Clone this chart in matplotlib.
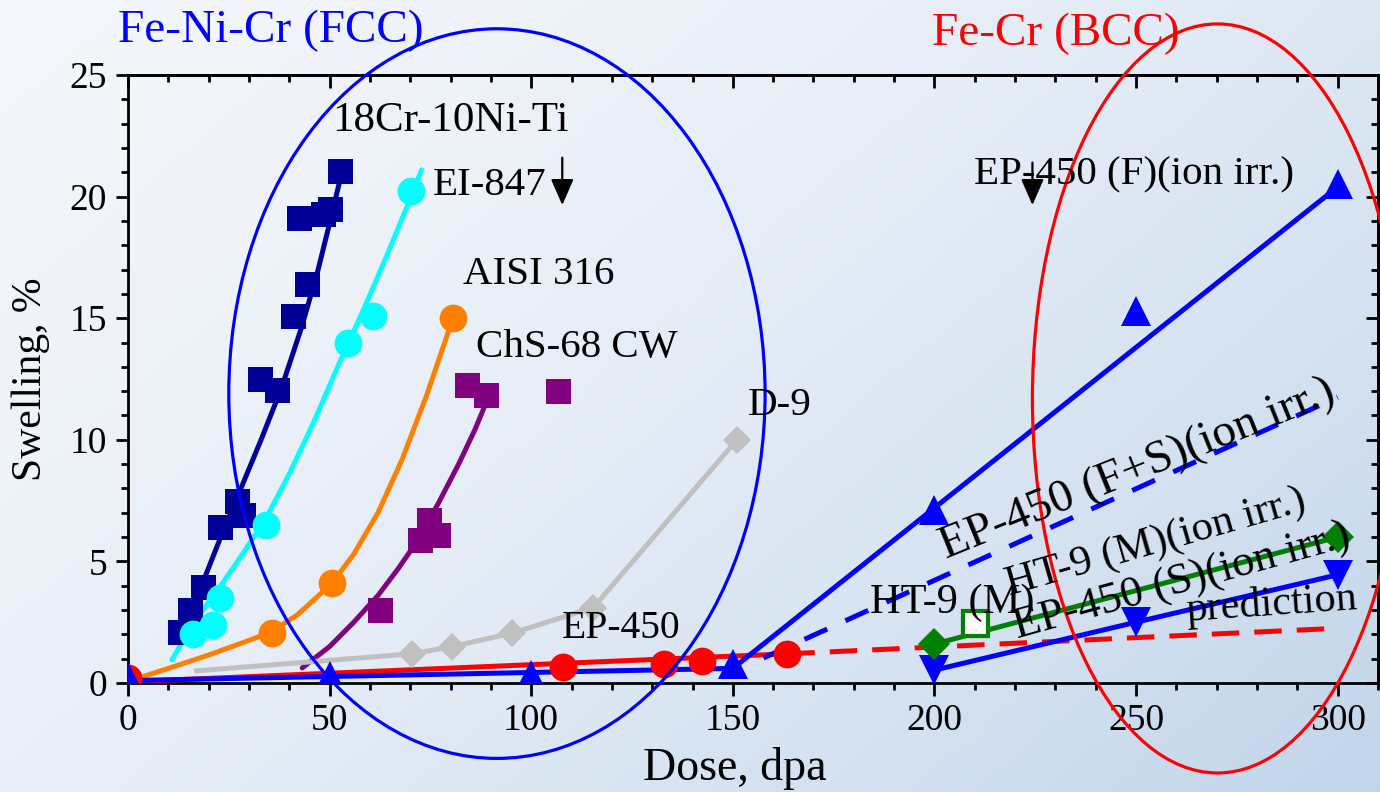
import numpy as np
import matplotlib.pyplot as plt
from matplotlib.patches import Ellipse
from matplotlib.ticker import MultipleLocator

plt.rcParams['font.family'] = ['Liberation Serif', 'DejaVu Serif']

# 18Cr-10Ni-Ti (squares) and its fit line
cr18_x = [12.9, 15.4, 18.6, 22.8, 27, 28.5, 32.8, 37, 41, 44.4, 42.4, 48.4, 50.1, 52.6]
cr18_y = [2.1, 3.0, 3.95, 6.4, 7.5, 6.9, 12.5, 12.05, 15.1, 16.4, 19.1, 19.3, 19.5, 21.05]
cr18_fit_x = [12.9, 18, 23, 28, 33, 38, 43, 47, 50, 52.6]
cr18_fit_y = [1.9, 3.9, 6.0, 8.0, 10.0, 12.1, 14.6, 16.9, 18.9, 20.7]

# EI-847
ei_x = [16.2, 21.1, 22.8, 34.2, 54.6, 60.8, 70.2]
ei_y = [2.0, 2.4, 3.5, 6.5, 14.0, 15.1, 20.25]
ei_fit_x = [10.9, 16, 22.8, 28, 34, 40, 46, 52, 58, 64, 70, 72.8]
ei_fit_y = [0.95, 2.4, 3.95, 5.2, 6.7, 8.6, 10.7, 13.0, 15.2, 17.5, 19.9, 21.1]

# AISI 316
aisi_x = [35.7, 50.6, 80.6]
aisi_y = [2.06, 4.1, 15.0]
aisi_fit_x = [2.5, 10, 20, 30, 35.5, 42, 50.6, 56, 62, 68, 74, 80.6]
aisi_fit_y = [0.2, 0.6, 1.15, 1.75, 2.1, 2.8, 4.1, 5.3, 7.0, 9.2, 11.8, 15.0]

# ChS-68 CW
chs_x = [62.5, 72.5, 74.6, 77, 84, 88.8, 106.7]
chs_y = [3.0, 5.9, 6.7, 6.1, 12.25, 11.85, 12.0]
chs_fit_x = [43.2, 50, 56, 62, 67, 72, 77, 82, 86, 89]
chs_fit_y = [0.62, 1.5, 2.5, 3.6, 4.7, 5.9, 7.4, 9.0, 10.4, 11.6]

# D-9
d9_x = [70.5, 80.4, 95.3, 115.4, 151]
d9_y = [1.2, 1.5, 2.05, 3.1, 10.0]
d9_line_x = [17, 70.5, 80.4, 95.3, 115.4, 151]
d9_line_y = [0.5, 1.2, 1.5, 2.05, 3.1, 10.0]

# EP-450 (neutron) and prediction
ep_x = [0, 108, 133, 142.4, 163.5]
ep_y = [0.2, 0.67, 0.8, 0.9, 1.2]
ep_line_x = [0, 163.5]
ep_line_y = [0.05, 1.2]
pred_x = [163.5, 300]
pred_y = [1.2, 2.25]

# EP-450 (F)(ion irr.)
epf_x = [0, 50, 100, 150, 200, 250, 300]
epf_y = [0.25, 0.28, 0.33, 0.8, 7.1, 15.3, 20.5]
epf_line_x = [0, 150, 300]
epf_line_y = [0.1, 0.6, 20.4]

# EP-450 (F+S)(ion irr.)
epfs_x = [157.6, 300]
epfs_y = [1.03, 11.75]

# EP-450 (S)(ion irr.)
eps_x = [200, 250, 300]
eps_y = [0.53, 2.5, 4.45]

# HT-9 (M)
ht9_x = [200, 300]
ht9_y = [1.6, 6.0]
ht9n_x = [210]
ht9n_y = [2.45]

fig = plt.figure(figsize=(13.8, 7.92), dpi=100)

# light blue background
bg = fig.add_axes([0, 0, 1, 1], zorder=-10)
yy, xx = np.mgrid[0:1:200j, 0:1:350j]
t = np.clip(0.6 * xx + 0.4 * yy, 0, 1) ** 1.6
c0 = np.array([0.955, 0.966, 0.985])
c1 = np.array([0.76, 0.835, 0.92])
bg.imshow(c0 + (c1 - c0) * t[..., None], aspect='auto', extent=[0, 1, 0, 1])
bg.axis('off')

ax = fig.add_axes([128 / 1380, 1 - 683 / 792, 1250 / 1380, 608 / 792])
ax.set_facecolor('none')

lw = 3.6
ax.plot(cr18_fit_x, cr18_fit_y, color='#000099', lw=lw, zorder=3)
ax.plot(cr18_x, cr18_y, 's', color='#000099', ms=18, mew=0, zorder=4)

ax.plot(ei_fit_x, ei_fit_y, color='#00ffff', lw=lw, zorder=3, solid_capstyle='round')
ax.plot(ei_x, ei_y, 'o', color='#00ffff', ms=20, mew=0, zorder=4)

ax.plot(aisi_fit_x, aisi_fit_y, color='#ff8000', lw=lw, zorder=3)
ax.plot(aisi_x, aisi_y, 'o', color='#ff8000', ms=20, mew=0, zorder=4)

ax.plot(chs_fit_x, chs_fit_y, color='#800080', lw=lw, zorder=3, solid_capstyle='round')
ax.plot(chs_x, chs_y, 's', color='#800080', ms=18, mew=0, zorder=4)

ax.plot(d9_line_x, d9_line_y, color='#c0c0c0', lw=lw, zorder=3)
ax.plot(d9_x, d9_y, 'D', color='#c0c0c0', ms=14, mew=0, zorder=4)

ax.plot(ep_line_x, ep_line_y, color='#ff0000', lw=lw, zorder=3)
ax.plot(pred_x, pred_y, color='#ff0000', lw=lw, ls=(0, (5.5, 3)), zorder=3)
ax.plot(ep_x, ep_y, 'o', color='#ff0000', ms=20, mew=0, zorder=4)

ax.plot(epf_line_x, epf_line_y, color='#0000ff', lw=lw, zorder=3)
ax.plot(epf_x, epf_y, '^', color='#0000ff', ms=21, mew=0, zorder=4)
ax.plot(epfs_x, epfs_y, color='#0000ff', lw=lw, ls=(0, (5, 4)), zorder=3)

ax.plot(eps_x, eps_y, color='#0000ff', lw=lw, zorder=3)
ax.plot(eps_x, eps_y, 'v', color='#0000ff', ms=21, mew=0, zorder=4)

ax.plot(ht9_x, ht9_y, color='#008000', lw=lw, zorder=3)
ax.plot(ht9_x, ht9_y, 'D', color='#008000', ms=16, mew=0, zorder=4)
ax.plot(ht9n_x, ht9n_y, 's', mfc='white', mec='#008000', mew=3, ms=18, zorder=4)

# group ellipses
ax.add_patch(Ellipse((91.5, 11.9), 133, 30.0, fill=False, ec='#0000ff', lw=2.3,
                     clip_on=False, zorder=5))
ax.add_patch(Ellipse((270.2, 11.7), 91.8, 30.8, fill=False, ec='#ff0000', lw=2.3,
                     clip_on=False, zorder=5))

txt = dict(color='black', ha='left', va='baseline', zorder=6)
ax.text(50.6, 22.7, '18Cr-10Ni-Ti', fontsize=31, **txt)
ax.text(75.7, 20.07, 'EI-847', fontsize=29.5, **txt)
ax.text(83.1, 16.4, 'AISI 316', fontsize=29.5, **txt)
ax.text(86.4, 13.4, 'ChS-68 CW', fontsize=29.5, **txt)
ax.text(153.6, 11.0, 'D-9', fontsize=29.5, **txt)
ax.text(107.7, 1.85, 'EP-450', fontsize=28.5, **txt)
ax.text(209.7, 20.5, 'EP-450 (F)(ion irr.)', fontsize=29.5, **txt)
ax.text(184, 2.9, 'HT-9 (M)', fontsize=30.5, **txt)
ax.text(262.5, 2.55, 'prediction', fontsize=30.5, rotation=4, rotation_mode='anchor', **txt)
ax.text(203, 5.1, 'EP-450 (F+S)(ion irr.)', fontsize=34, rotation=22,
        rotation_mode='anchor', **txt)
ax.text(218.5, 3.6, 'HT-9 (M)(ion irr.)', fontsize=31, rotation=16,
        rotation_mode='anchor', **txt)
ax.text(220.5, 1.8, 'EP-450 (S)(ion irr.)', fontsize=32, rotation=15.5,
        rotation_mode='anchor', **txt)

arrow = dict(arrowstyle='-|>,head_width=0.35,head_length=0.8', color='black', lw=1.6,
             mutation_scale=20, shrinkA=0, shrinkB=0)
ax.annotate('', xy=(107.7, 19.65), xytext=(107.7, 21.6), arrowprops=arrow)
ax.annotate('', xy=(224.3, 19.65), xytext=(224.3, 21.4), arrowprops=arrow)

fig.text(118 / 1380, 1 - 42 / 792, 'Fe-Ni-Cr (FCC)', color='#0000ff', fontsize=34,
         ha='left', va='baseline')
fig.text(932 / 1380, 1 - 45 / 792, 'Fe-Cr (BCC)', color='#ff0000', fontsize=34,
         ha='left', va='baseline')

ax.set_xlim(0, 310)
ax.set_ylim(0, 25)
ax.xaxis.set_major_locator(MultipleLocator(50))
ax.xaxis.set_minor_locator(MultipleLocator(10))
ax.yaxis.set_major_locator(MultipleLocator(5))
ax.yaxis.set_minor_locator(MultipleLocator(1))
ax.tick_params(which='both', direction='out', width=2, labelsize=27)
ax.tick_params(which='major', length=9, pad=6)
ax.tick_params(which='minor', length=5)
for s in ax.spines.values():
    s.set_linewidth(2)

top = ax.secondary_xaxis('top')
top.xaxis.set_major_locator(MultipleLocator(50))
top.xaxis.set_minor_locator(MultipleLocator(10))
top.tick_params(which='both', direction='in', width=2, labeltop=False)
top.tick_params(which='major', length=9)
top.tick_params(which='minor', length=5)
right = ax.secondary_yaxis('right')
right.yaxis.set_major_locator(MultipleLocator(5))
right.yaxis.set_minor_locator(MultipleLocator(1))
right.tick_params(which='both', direction='in', width=2, labelright=False)
right.tick_params(which='major', length=9)
right.tick_params(which='minor', length=5)
for a in (top, right):
    for s in a.spines.values():
        s.set_linewidth(2)

ax.set_xlabel('Dose, dpa', fontsize=33)
ax.set_ylabel('Swelling, %', fontsize=30)
ax.xaxis.set_label_coords(0.4856, -0.105)
ax.yaxis.set_label_coords(-0.062, 0.5)

fig.savefig('out.png', dpi=100)
